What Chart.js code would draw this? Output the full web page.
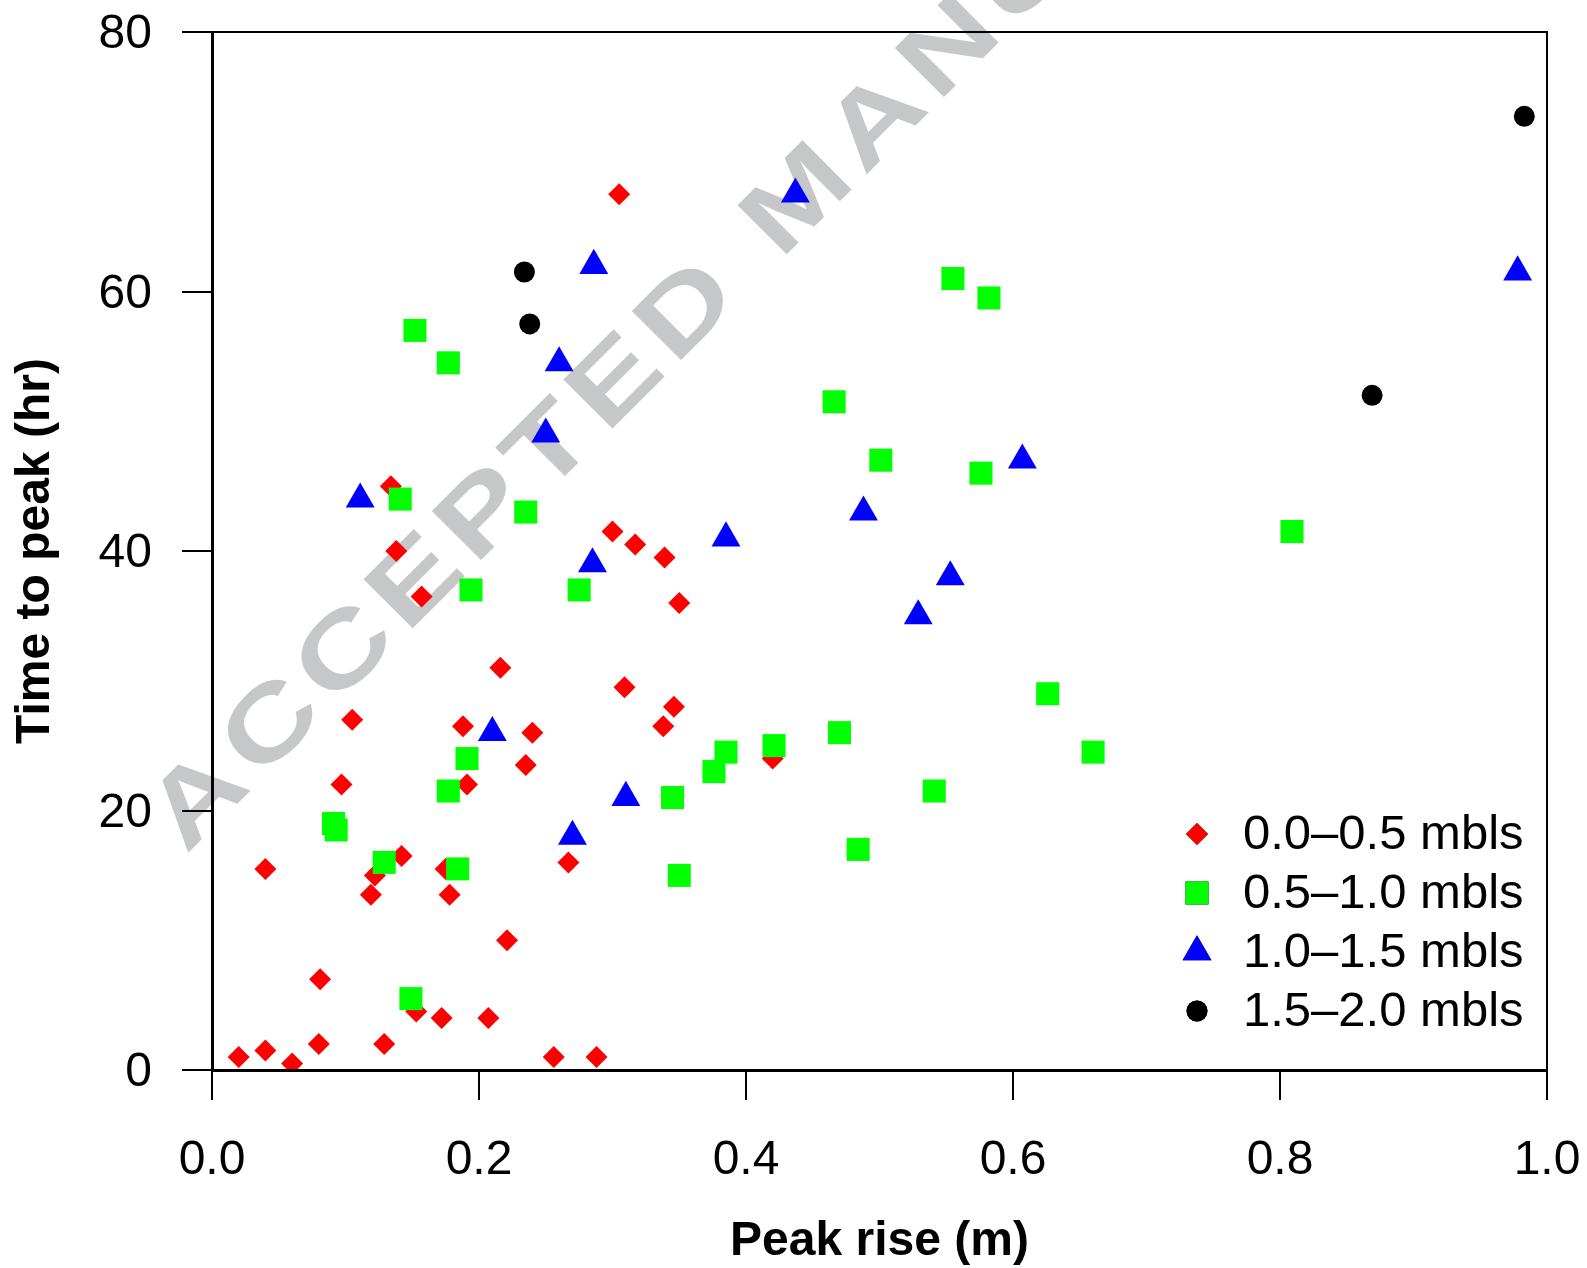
<!DOCTYPE html>
<html>
<head>
<meta charset="utf-8">
<script src="https://cdn.jsdelivr.net/npm/chart.js@4.4.1/dist/chart.umd.min.js"></script>
<style>
  html, body { margin: 0; padding: 0; background: #fff; }
  #wrap { width: 1587px; height: 1268px; }
</style>
</head>
<body>
<div id="wrap"><canvas id="chart" width="1587" height="1268"></canvas></div>
<script>
// peak rise (m) and time to peak (hr), one pair of arrays per depth class
const seriesLabels = ["0.0\u20130.5 mbls", "0.5\u20131.0 mbls", "1.0\u20131.5 mbls", "1.5\u20132.0 mbls"];

const redX = [0.305, 0.134, 0.138, 0.157, 0.300, 0.317, 0.339, 0.350, 0.216, 0.309, 0.346, 0.338, 0.105, 0.188,
  0.240, 0.235, 0.097, 0.191, 0.040, 0.142, 0.122, 0.119, 0.175, 0.178, 0.267, 0.221, 0.081, 0.153, 0.172, 0.207,
  0.020, 0.040, 0.060, 0.080, 0.129, 0.256, 0.288, 0.420];
const redY = [67.5, 45.0, 40.0, 36.5, 41.5, 40.5, 39.5, 36.0, 31.0, 29.5, 28.0, 26.5, 27.0, 26.5,
  26.0, 23.5, 22.0, 22.0, 15.5, 16.5, 15.0, 13.5, 15.5, 13.5, 16.0, 10.0, 7.0, 4.5, 4.0, 4.0,
  1.0, 1.5, 0.5, 2.0, 2.0, 1.0, 1.0, 24.0];

const greenX = [0.152, 0.177, 0.141, 0.235, 0.194, 0.275, 0.191, 0.177, 0.091, 0.093, 0.129, 0.184, 0.149, 0.345,
  0.350, 0.385, 0.376, 0.421, 0.470, 0.484, 0.541, 0.626, 0.660, 0.809, 0.466, 0.501, 0.576, 0.555, 0.582];
const greenY = [57.0, 54.5, 44.0, 43.0, 37.0, 37.0, 24.0, 21.5, 19.0, 18.5, 16.0, 15.5, 5.5, 21.0,
  15.0, 24.5, 23.0, 25.0, 26.0, 17.0, 21.5, 29.0, 24.5, 41.5, 51.5, 47.0, 46.0, 61.0, 59.5];

const blueX = [0.437, 0.286, 0.260, 0.250, 0.111, 0.285, 0.385, 0.210, 0.310, 0.270, 0.488, 0.529, 0.553, 0.607, 0.978];
const blueY = [67.5, 62.0, 54.5, 49.0, 44.0, 39.0, 41.0, 26.0, 21.0, 18.0, 43.0, 35.0, 38.0, 47.0, 61.5];

const blackX = [0.234, 0.238, 0.869, 0.983];
const blackY = [61.5, 57.5, 52.0, 73.5];

const xTicks = [0, 0.2, 0.4, 0.6, 0.8, 1.0];
const yTicks = [0, 20, 40, 60, 80];

const FONT = "'Liberation Sans', Arial, Helvetica, sans-serif";

function pts(xs, ys) {
  return xs.map((x, i) => ({ x: x, y: ys[i] }));
}

const styles = [
  { color: "#ff0000", pointStyle: "rectRot", radius: 11 },
  { color: "#00ff00", pointStyle: "rect", radius: 16.3 },
  { color: "#0000ff", pointStyle: "triangle", radius: 16.7 },
  { color: "#000000", pointStyle: "circle", radius: 10.5 },
];

const allData = [pts(redX, redY), pts(greenX, greenY), pts(blueX, blueY), pts(blackX, blackY)];

const datasets = allData.map((d, i) => ({
  label: seriesLabels[i],
  data: d,
  backgroundColor: styles[i].color,
  borderWidth: 0,
  pointStyle: styles[i].pointStyle,
  pointRadius: styles[i].radius,
  pointHoverRadius: styles[i].radius,
  order: 4 - i, // red drawn first, black last
}));

// grey watermark behind everything
const watermark = {
  id: "watermark",
  beforeDraw(chart) {
    const ctx = chart.ctx;
    ctx.save();
    ctx.fillStyle = "#fff";
    ctx.fillRect(0, 0, chart.width, chart.height);
    ctx.translate(186, 855);
    ctx.rotate(-Math.PI / 4);
    ctx.scale(1.3, 1);
    ctx.font = "bold 101px " + FONT;
    ctx.fillStyle = "#c6c7c9";
    ctx.textBaseline = "alphabetic";
    let x = 0;
    for (const ch of "ACCEPTED MANUSCRIPT") {
      ctx.fillText(ch, x, 0);
      x += ctx.measureText(ch).width + 7;
    }
    ctx.restore();
  },
};

// box around plot + legend inside the plot
const boxAndLegend = {
  id: "boxAndLegend",
  afterDraw(chart) {
    const ctx = chart.ctx;
    const a = chart.chartArea;
    ctx.save();
    ctx.strokeStyle = "#000";
    ctx.lineWidth = 2;
    ctx.strokeRect(a.left, a.top, a.right - a.left, a.bottom - a.top);

    const rows = [834, 893, 952, 1011];
    ctx.font = "49px " + FONT;
    ctx.textBaseline = "middle";
    ctx.textAlign = "left";
    rows.forEach((y, i) => {
      const st = styles[i];
      Chart.helpers.drawPoint(ctx, {
        pointStyle: st.pointStyle,
        radius: st.radius,
        rotation: 0,
        borderWidth: 0,
      }, 1197, y);
      ctx.fillStyle = st.color;
      ctx.fill();
      ctx.fillStyle = "#000";
      ctx.fillText(seriesLabels[i], 1243, y + 1);
    });
    ctx.restore();
  },
};

new Chart(document.getElementById("chart"), {
  type: "scatter",
  data: { datasets: datasets },
  plugins: [watermark, boxAndLegend],
  options: {
    responsive: false,
    animation: false,
    devicePixelRatio: 1,
    layout: { padding: { left: 0, right: 40, top: 32, bottom: 0 } },
    plugins: {
      legend: { display: false },
      tooltip: { enabled: false },
    },
    scales: {
      x: {
        type: "linear",
        min: 0,
        max: 1,
        afterFit: (s) => {
          s.height = 198;
          s.paddingLeft = 0;
          s.paddingRight = 0;
        },
        afterBuildTicks: (s) => { s.ticks = xTicks.map((v) => ({ value: v })); },
        border: { display: true, color: "#000", width: 3 },
        grid: { display: true, drawOnChartArea: false, drawTicks: true, tickLength: 30, color: "#000", lineWidth: 2, tickWidth: 2 },
        ticks: {
          padding: 32,
          maxRotation: 0,
          autoSkip: false,
          color: "#000",
          font: { family: FONT, size: 48 },
          callback: (v) => Number(v).toFixed(1),
        },
        title: {
          display: true,
          text: "Peak rise (m)",
          color: "#000",
          font: { family: FONT, size: 48, weight: "bold" },
          padding: { top: 0, bottom: -3 },
        },
      },
      y: {
        type: "linear",
        min: 0,
        max: 80,
        afterFit: (s) => {
          s.width = 212;
          s.paddingTop = 0;
          s.paddingBottom = 0;
        },
        afterBuildTicks: (s) => { s.ticks = yTicks.map((v) => ({ value: v })); },
        border: { display: true, color: "#000", width: 3 },
        grid: { display: true, drawOnChartArea: false, drawTicks: true, tickLength: 30, color: "#000", lineWidth: 2, tickWidth: 2 },
        ticks: {
          padding: 30,
          labelOffset: 3,
          color: "#000",
          font: { family: FONT, size: 48 },
        },
        title: {
          display: true,
          text: "Time to peak (hr)",
          color: "#000",
          font: { family: FONT, size: 48, weight: "bold" },
          padding: { top: 7, bottom: 0 },
        },
      },
    },
  },
});
</script>
</body>
</html>
